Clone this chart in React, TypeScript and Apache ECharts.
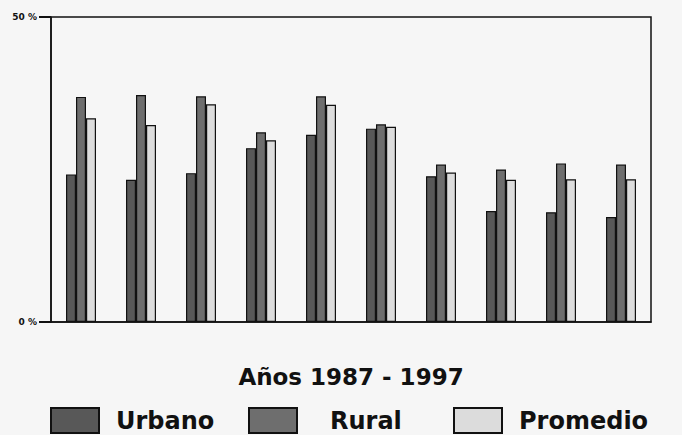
import React, { useEffect, useRef } from "react";
import * as echarts from "echarts";

const categories = ["1987", "1988", "1989", "1990", "1991", "1992", "1993", "1994", "1995", "1996"];
const urbano = [24.2, 23.3, 24.4, 28.5, 30.7, 31.7, 23.9, 18.2, 18.0, 17.2];
const rural = [36.9, 37.2, 37.0, 31.1, 37.0, 32.4, 25.8, 25.0, 26.0, 25.8];
const promedio = [33.4, 32.3, 35.7, 29.8, 35.6, 32.0, 24.5, 23.3, 23.4, 23.4];
const yTicks = [0, 50];
const xTitle = "Años 1987 - 1997";

const FONT = "DejaVu Sans";

export default function App() {
  const ref = useRef<HTMLDivElement>(null);
  useEffect(() => {
    if (!ref.current) return;
    const chart = echarts.init(ref.current, undefined, { renderer: "svg" });
    const border = { borderColor: "#111", borderWidth: 1.2 };
    const legendText = { fontFamily: FONT, fontWeight: "bold", fontSize: 24, color: "#111" };
    const mkLegend = (name: string, left: number, pad: number) => ({
      data: [name],
      left,
      top: 402,
      itemWidth: 48,
      itemHeight: 25,
      icon: "rect",
      itemGap: 0,
      textStyle: { ...legendText, padding: [0, 0, 0, pad] },
      selectedMode: false,
    });
    chart.setOption({
      animation: false,
      backgroundColor: "#f6f6f6",
      grid: {
        left: 51,
        right: 31,
        top: 17,
        bottom: 113,
        show: true,
        borderColor: "#111",
        borderWidth: 1.5,
        backgroundColor: "transparent",
      },
      legend: [
        mkLegend("Urbano", 45, 12),
        mkLegend("Rural", 243, 28),
        mkLegend("Promedio", 448, 12),
      ],
      xAxis: {
        type: "category",
        data: categories,
        axisLine: { show: true, lineStyle: { color: "#111", width: 1.5 } },
        axisTick: { show: false },
        axisLabel: { show: false },
        name: xTitle,
        nameLocation: "middle",
        nameGap: 43,
        nameTextStyle: { fontFamily: FONT, fontWeight: "bold", fontSize: 23, color: "#111" },
      },
      yAxis: {
        type: "value",
        min: yTicks[0],
        max: yTicks[yTicks.length - 1],
        interval: 50,
        axisLine: { show: true, lineStyle: { color: "#111", width: 1.5 } },
        axisTick: { show: true, inside: false, length: 12, lineStyle: { color: "#111", width: 2 } },
        splitLine: { show: false },
        axisLabel: {
          formatter: "{value} %",
          fontFamily: FONT,
          fontWeight: "bold",
          fontSize: 9,
          color: "#111",
          margin: 14,
        },
      },
      series: [
        {
          name: "Urbano",
          type: "bar",
          data: urbano,
          barWidth: 10,
          barGap: "0%",
          itemStyle: { color: "#585858", ...border },
        },
        {
          name: "Rural",
          type: "bar",
          data: rural,
          barWidth: 10,
          barGap: "0%",
          itemStyle: { color: "#6e6e6e", ...border },
        },
        {
          name: "Promedio",
          type: "bar",
          data: promedio,
          barWidth: 10,
          barGap: "0%",
          itemStyle: { color: "#dcdcdc", ...border },
        },
      ],
    });
    return () => chart.dispose();
  }, []);
  return (
    <div
      ref={ref}
      style={{ position: "absolute", left: 0, top: 0, width: 682, height: 435 }}
    />
  );
}
